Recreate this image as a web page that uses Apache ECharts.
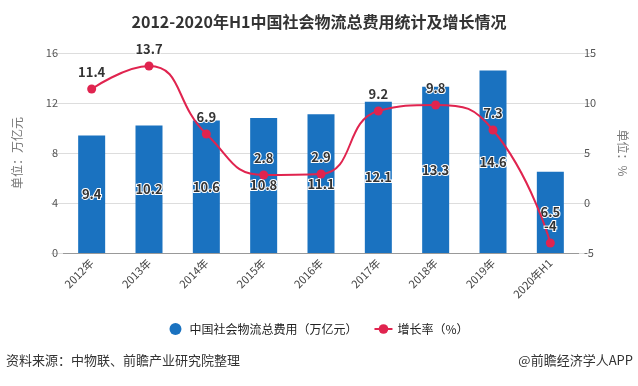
<!DOCTYPE html>
<html><head><meta charset="utf-8">
<script src="https://cdn.jsdelivr.net/npm/echarts@6/dist/echarts.min.js"></script>
<style>html,body{margin:0;padding:0;background:#fff}#c{width:638px;height:386px}</style>
</head><body><div id="c"></div>
<script>
const categories = ['2012年','2013年','2014年','2015年','2016年','2017年','2018年','2019年','2020年H1'];
const costValues = [9.4,10.2,10.6,10.8,11.1,12.1,13.3,14.6,6.5];
const growthValues = [11.4,13.7,6.9,2.8,2.9,9.2,9.8,7.3,-4];
const leftTicks = {min:0,max:16,interval:4};
const rightTicks = {min:-5,max:15,interval:5};

const FONT = '"Noto Sans CJK SC","Noto Sans",sans-serif';
const chart = echarts.init(document.getElementById('c'));
chart.setOption({
  animation:false,
  textStyle:{fontFamily:FONT},
  title:{text:'2012-2020年H1中国社会物流总费用统计及增长情况',left:'center',top:9,
    textStyle:{fontSize:16,fontWeight:'bold',color:'#333',fontFamily:FONT}},
  grid:{left:63,right:59,top:53,bottom:133},
  legend:{bottom:46,left:'center',itemGap:16,itemWidth:18,itemHeight:12,
    textStyle:{fontSize:12,color:'#222'},
    data:[{name:'中国社会物流总费用（万亿元）',icon:'circle'},{name:'增长率（%）'}]},
  xAxis:{type:'category',data:categories,
    axisTick:{alignWithLabel:true,lineStyle:{color:'#999'}},
    axisLine:{lineStyle:{color:'#999'}},
    axisLabel:{rotate:45,fontSize:11,color:'#444',margin:8,interval:0}},
  yAxis:[
    {type:'value',min:leftTicks.min,max:leftTicks.max,interval:leftTicks.interval,
     name:'单位：万亿元',nameLocation:'middle',nameGap:40,
     nameTextStyle:{color:'#777',fontSize:12},
     axisLine:{show:false},axisTick:{show:true,length:12,lineStyle:{color:'#ddd'}},
     axisLabel:{color:'#555',fontSize:11,margin:5},
     splitLine:{lineStyle:{color:'#ddd'}}},
    {type:'value',min:rightTicks.min,max:rightTicks.max,interval:rightTicks.interval,
     name:'单位：%',nameLocation:'middle',nameGap:38,nameRotate:-90,
     nameTextStyle:{color:'#777',fontSize:12},
     axisLine:{show:false},axisTick:{show:true,length:12,lineStyle:{color:'#ddd'}},
     axisLabel:{color:'#555',fontSize:11,margin:5},
     splitLine:{show:false}}
  ],
  series:[
    {name:'中国社会物流总费用（万亿元）',type:'bar',data:costValues,barWidth:27,
     itemStyle:{color:'#1a72c0'},
     label:{show:true,position:'inside',fontSize:13,fontWeight:'bold',color:'#333',
       textBorderColor:'#fff',textBorderWidth:2}},
    {name:'增长率（%）',type:'line',yAxisIndex:1,data:growthValues,smooth:0.5,
     symbol:'circle',symbolSize:9,
     lineStyle:{color:'#e0244f',width:2},itemStyle:{color:'#e0244f'},
     label:{show:true,position:'top',distance:6,fontSize:13,fontWeight:'bold',color:'#333',
       textBorderColor:'#fff',textBorderWidth:2}}
  ],
  graphic:[
    {type:'text',left:6,top:354,style:{text:'资料来源：中物联、前瞻产业研究院整理',fontSize:13,fill:'#333',fontFamily:FONT}},
    {type:'text',right:5,top:354,style:{text:'@前瞻经济学人APP',fontSize:13,fill:'#333',fontFamily:FONT}}
  ]
});
</script></body></html>
